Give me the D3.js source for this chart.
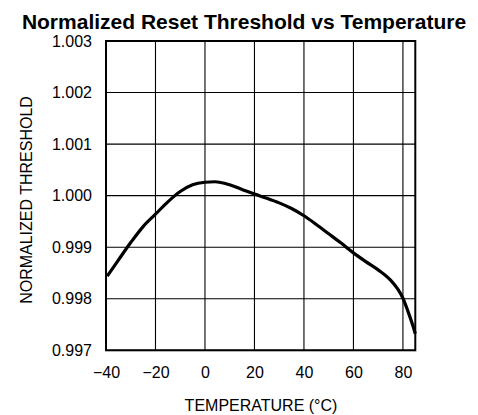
<!DOCTYPE html>
<html>
<head>
<meta charset="utf-8">
<script src="https://cdn.jsdelivr.net/npm/d3@7"></script>
<style>
  html, body { margin: 0; padding: 0; background: #fff; }
  svg { display: block; }
  text { font-family: "Liberation Sans", Arial, sans-serif; fill: #000; }
</style>
</head>
<body>
<svg id="chart" width="478" height="415"></svg>
<script>
// ---- data ----
const temperatures = [-39.5, -35, -30, -25, -20, -15, -10, -5, 0, 4, 10, 15, 20, 25, 30, 35, 40, 45, 50, 55, 60, 65, 70, 75, 78, 80, 82, 84, 85];
const thresholds = [0.99844, 0.99875, 0.99909, 0.99940, 0.99964, 0.99988, 1.00008, 1.00021, 1.00026, 1.00027, 1.00021, 1.00012, 1.00003, 0.99995, 0.99986, 0.99975, 0.99961, 0.99944, 0.99926, 0.99908, 0.99889, 0.99872, 0.99856, 0.99836, 0.99818, 0.99801, 0.99776, 0.99748, 0.99732];
const xTicks = [-40, -20, 0, 20, 40, 60, 80];
const xTickLabels = ["\u221240", "\u221220", "0", "20", "40", "60", "80"];
const yTicks = [0.997, 0.998, 0.999, 1.000, 1.001, 1.002, 1.003];
const yTickLabels = ["0.997", "0.998", "0.999", "1.000", "1.001", "1.002", "1.003"];
const titleText = "Normalized Reset Threshold vs Temperature";
const xTitle = "TEMPERATURE (\u00B0C)";
const yTitle = "NORMALIZED THRESHOLD";

// ---- layout ----
const W = 478, H = 415;
const margin = { left: 106, top: 41, right: 62.7, bottom: 64.7 };
const iw = W - margin.left - margin.right;
const ih = H - margin.top - margin.bottom;

const svg = d3.select("#chart");
const g = svg.append("g").attr("transform", `translate(${margin.left},${margin.top})`);

const x = d3.scaleLinear().domain([-40, 85]).range([0, iw]);
const y = d3.scaleLinear().domain([0.997, 1.003]).range([ih, 0]);

// grid lines
g.append("g").selectAll("line").data(xTicks).join("line")
  .attr("x1", d => x(d)).attr("x2", d => x(d))
  .attr("y1", 0).attr("y2", ih)
  .attr("stroke", "#000").attr("stroke-width", 1.1);
g.append("g").selectAll("line").data(yTicks).join("line")
  .attr("x1", 0).attr("x2", iw)
  .attr("y1", d => y(d)).attr("y2", d => y(d))
  .attr("stroke", "#000").attr("stroke-width", 1.1);

// axes (labels only)
const xAxis = d3.axisBottom(x).tickValues(xTicks)
  .tickFormat((d, i) => xTickLabels[i]).tickSize(0).tickPadding(16);
const gx = g.append("g").attr("transform", `translate(0,${ih})`).call(xAxis);
gx.select(".domain").remove();
gx.selectAll("text").attr("font-size", 16).attr("font-family", "Liberation Sans, Arial, sans-serif").attr("fill", "#000");

const yAxis = d3.axisLeft(y).tickValues(yTicks)
  .tickFormat((d, i) => yTickLabels[i]).tickSize(0).tickPadding(14);
const gy = g.append("g").call(yAxis);
gy.select(".domain").remove();
gy.selectAll("text").attr("font-size", 16).attr("font-family", "Liberation Sans, Arial, sans-serif").attr("fill", "#000");

// frame
g.append("rect").attr("x", 0).attr("y", 0).attr("width", iw).attr("height", ih)
  .attr("fill", "none").attr("stroke", "#000").attr("stroke-width", 2);

// curve
const pts = temperatures.map((t, i) => [t, thresholds[i]]);
const line = d3.line().x(d => x(d[0])).y(d => y(d[1])).curve(d3.curveMonotoneX);
g.append("path").datum(pts).attr("d", line)
  .attr("fill", "none").attr("stroke", "#000").attr("stroke-width", 3.2)
  .attr("stroke-linejoin", "round");

// titles
svg.append("text").attr("x", 244).attr("y", 29).attr("text-anchor", "middle")
  .attr("font-size", 21).attr("font-weight", "bold").text(titleText);
svg.append("text").attr("x", 261).attr("y", 411).attr("text-anchor", "middle")
  .attr("font-size", 16).text(xTitle);
svg.append("text").attr("transform", "translate(32,200) rotate(-90)").attr("text-anchor", "middle")
  .attr("font-size", 16).text(yTitle);
</script>
</body>
</html>
